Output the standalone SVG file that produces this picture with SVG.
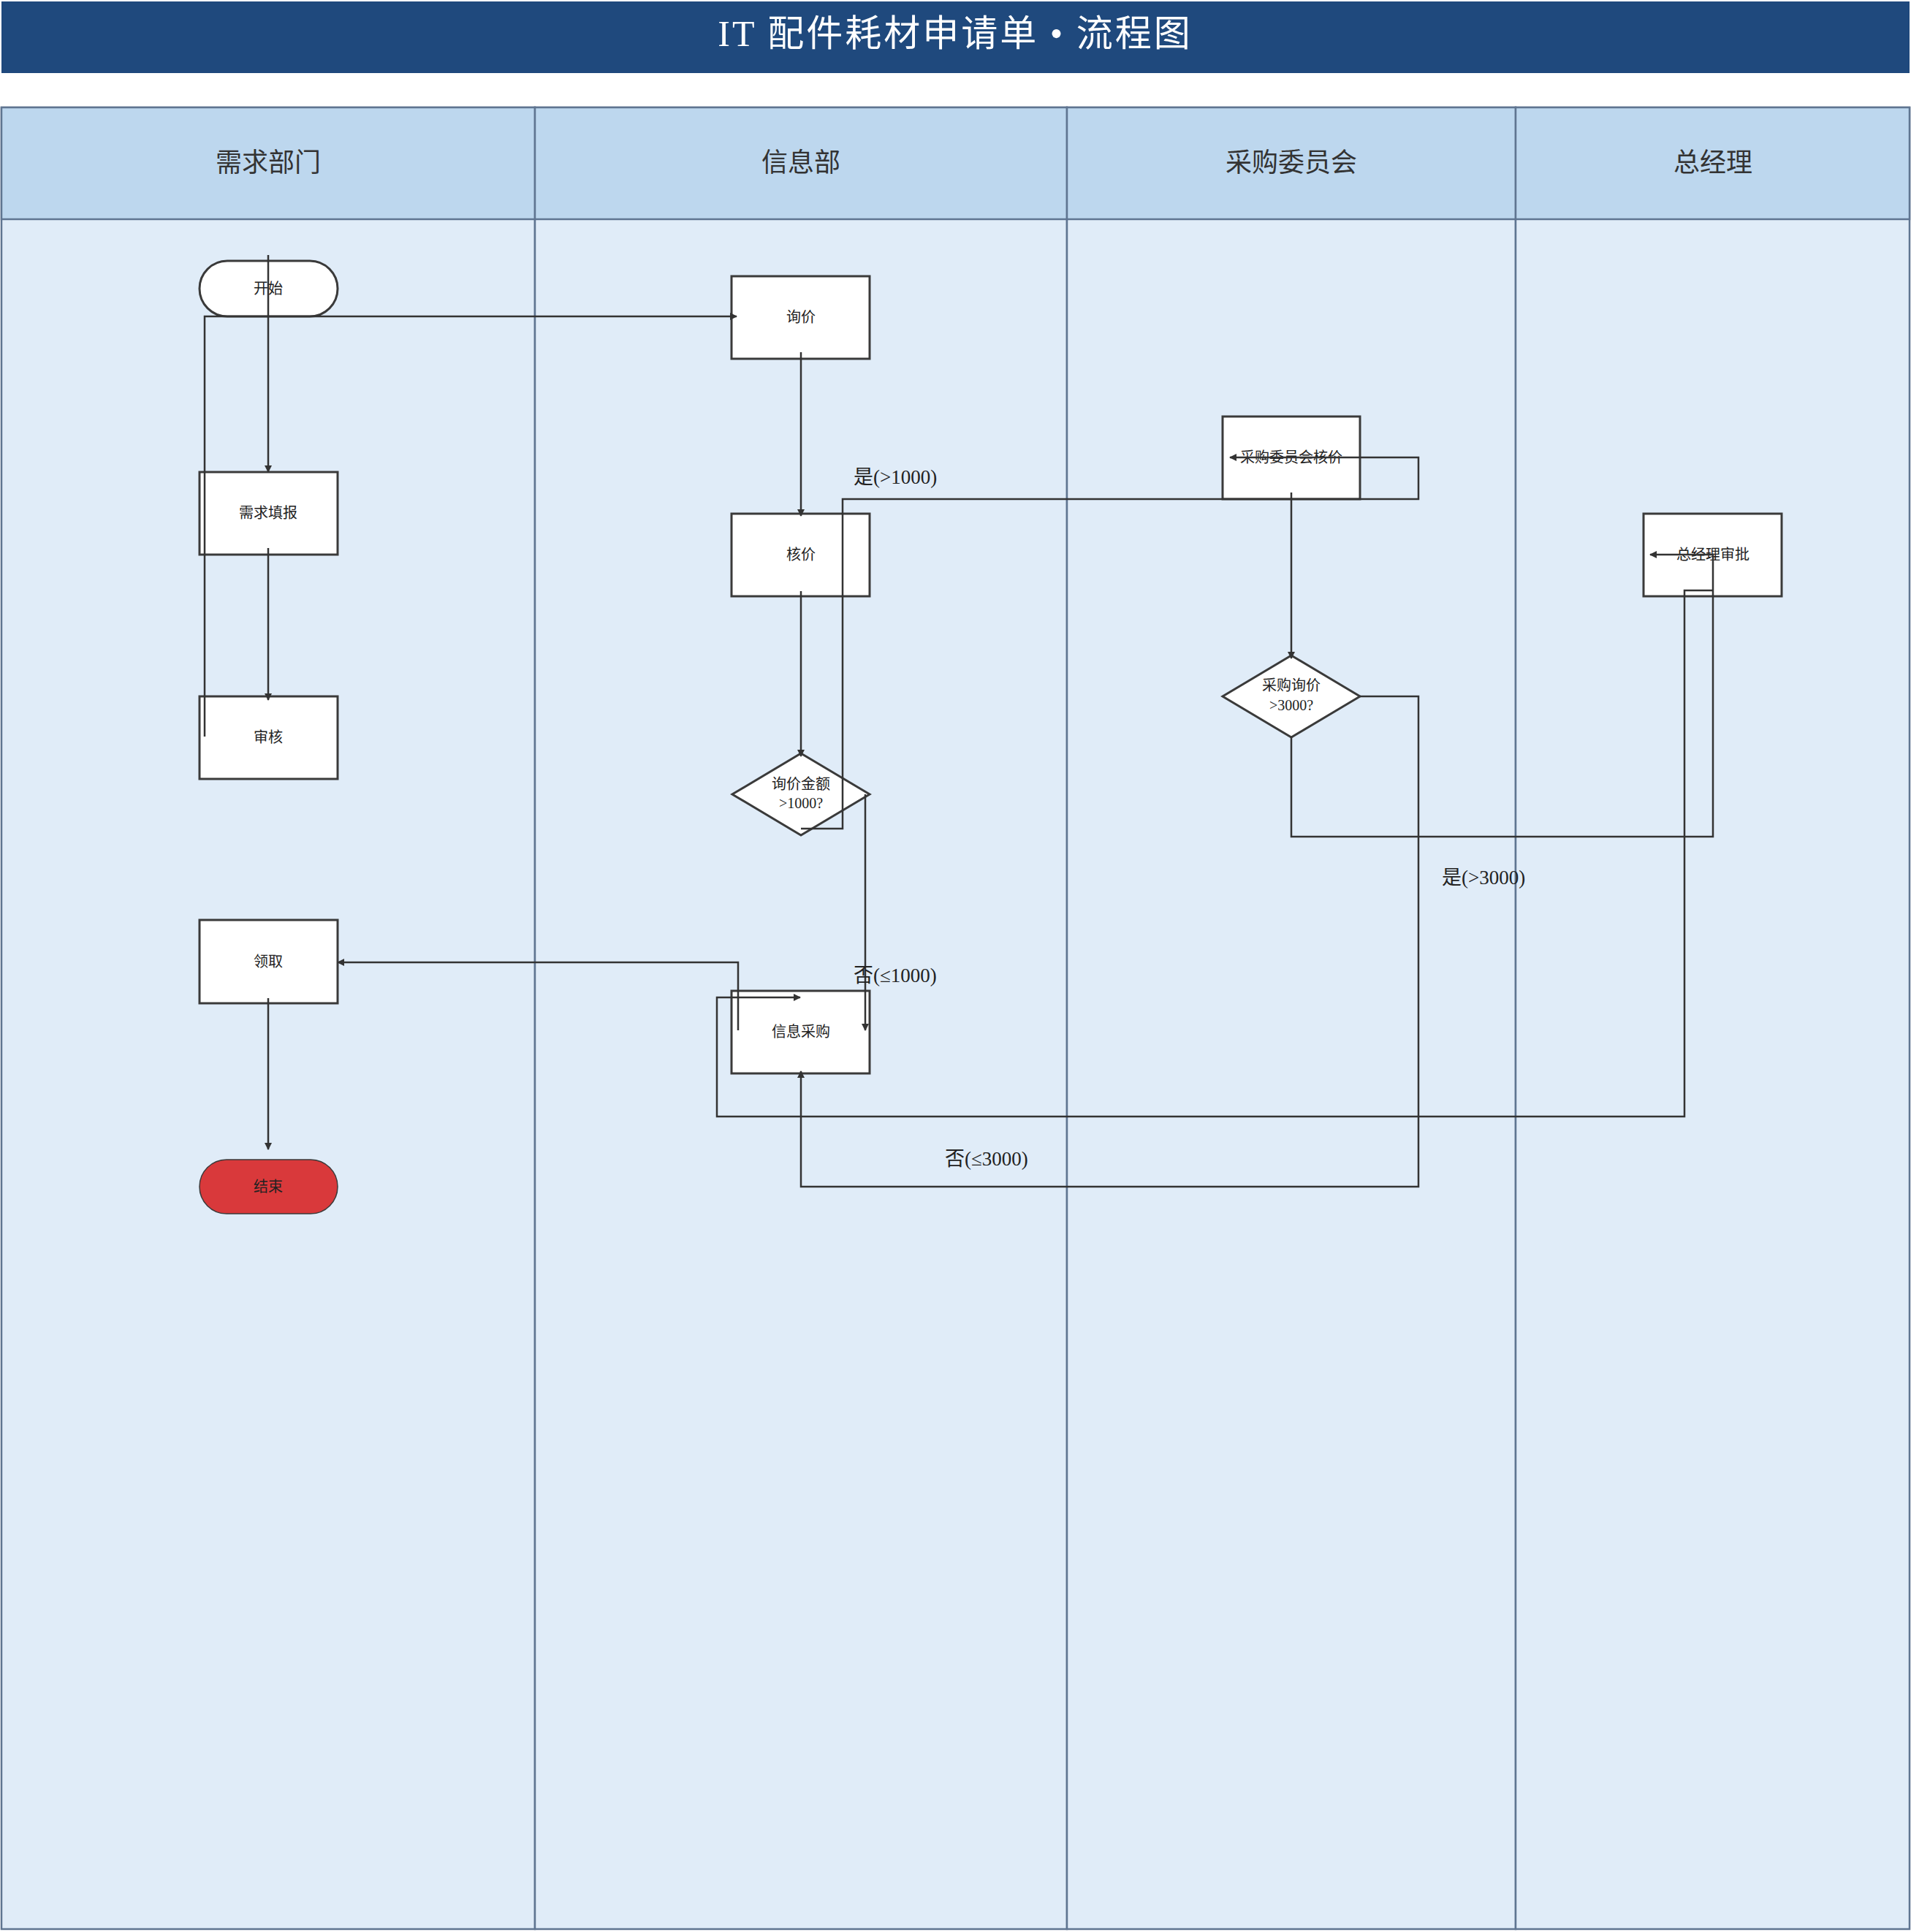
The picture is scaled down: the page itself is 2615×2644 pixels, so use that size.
<svg xmlns="http://www.w3.org/2000/svg" width="2615" height="2644" viewBox="0 0 2615 2644">
<defs>
<marker id="ar" markerWidth="10" markerHeight="10" refX="9" refY="5" orient="auto" markerUnits="userSpaceOnUse" viewBox="0 0 10 10"><path d="M0,0 L10,5 L0,10 z" fill="#333"/></marker>
<style>
.lane{fill:#e0ecf8;stroke:#5f7591;stroke-width:2.5}
.hdr{fill:#bdd7ee;stroke:#5f7591;stroke-width:2.5}
.ht{font-family:"Liberation Serif","Noto Sans CJK SC",serif;font-size:36px;fill:#333;text-anchor:middle}
.n{fill:#fff;stroke:#3a3a3a;stroke-width:3}
.nt{font-family:"Liberation Serif","Noto Sans CJK SC",serif;font-size:20px;fill:#222;text-anchor:middle}
.c{fill:none;stroke:#333;stroke-width:2.5}
.lb{font-family:"Liberation Serif","Noto Sans CJK SC",serif;font-size:27px;fill:#222}
</style>
</defs>
<rect x="0" y="0" width="2615" height="2644" fill="#fff"/>
<g id="title"><rect x="2" y="2" width="2611" height="98" fill="#1f497d"/>
<text x="1307" y="63" font-family="Liberation Serif,Noto Sans CJK SC,serif" font-size="50" fill="#fff" text-anchor="middle" letter-spacing="3">IT 配件耗材申请单 • 流程图</text></g>
<g id="lanes">
<rect class="lane" x="2" y="147" width="730" height="2493"/>
<rect class="lane" x="732" y="147" width="728" height="2493"/>
<rect class="lane" x="1460" y="147" width="614" height="2493"/>
<rect class="lane" x="2074" y="147" width="539" height="2493"/>
<rect class="hdr" x="2" y="147" width="730" height="153"/>
<rect class="hdr" x="732" y="147" width="728" height="153"/>
<rect class="hdr" x="1460" y="147" width="614" height="153"/>
<rect class="hdr" x="2074" y="147" width="539" height="153"/>
<text class="ht" x="367" y="235">需求部门</text>
<text class="ht" x="1096" y="235">信息部</text>
<text class="ht" x="1767" y="235">采购委员会</text>
<text class="ht" x="2344" y="235">总经理</text>
</g>
<g id="n-start"><rect class="n" x="273" y="357" width="189" height="76" rx="38"/><text class="nt" x="367" y="402">开始</text></g>
<g id="n-fill"><rect class="n" x="273" y="646" width="189" height="113"/><text class="nt" x="367" y="709">需求填报</text></g>
<g id="n-review"><rect class="n" x="273" y="953" width="189" height="113"/><text class="nt" x="367" y="1016">审核</text></g>
<g id="n-receive"><rect class="n" x="273" y="1259" width="189" height="114"/><text class="nt" x="367" y="1323">领取</text></g>
<g id="n-end"><rect x="273" y="1587" width="189" height="74" rx="37" fill="#d9393b" stroke="#3a3a3a" stroke-width="1.5"/><text class="nt" x="367" y="1631">结束</text></g>
<g id="n-inquiry"><rect class="n" x="1001" y="378" width="189" height="113"/><text class="nt" x="1096" y="441">询价</text></g>
<g id="n-check"><rect class="n" x="1001" y="703" width="189" height="113"/><text class="nt" x="1096" y="766">核价</text></g>
<g id="n-d1"><polygon class="n" points="1096,1031 1190,1087 1096,1143 1002,1087"/><text class="nt" x="1096" y="1080">询价金额</text><text class="nt" x="1096" y="1106">&gt;1000?</text></g>
<g id="n-buy"><rect class="n" x="1001" y="1356" width="189" height="113"/><text class="nt" x="1096" y="1419">信息采购</text></g>
<g id="n-comm"><rect class="n" x="1673" y="570" width="188" height="113"/><text class="nt" x="1767" y="633">采购委员会核价</text></g>
<g id="n-d2"><polygon class="n" points="1767,897 1861,953 1767,1009 1673,953"/><text class="nt" x="1767" y="945">采购询价</text><text class="nt" x="1767" y="972">&gt;3000?</text></g>
<g id="n-gm"><rect class="n" x="2249" y="703" width="189" height="113"/><text class="nt" x="2344" y="766">总经理审批</text></g>
<g id="connectors">
<path class="c" d="M367,349 V646" marker-end="url(#ar)"/>
<path class="c" d="M280,1008 V433 H1008" marker-end="url(#ar)"/>
<path class="c" d="M367,750 V958" marker-end="url(#ar)"/>
<path class="c" d="M1096,482 V706" marker-end="url(#ar)"/>
<path class="c" d="M1096,809 V1035" marker-end="url(#ar)"/>
<path class="c" d="M1096,1134 H1153 V683 H1941 V626 H1683" marker-end="url(#ar)"/>
<path class="c" d="M1184,1087 V1410" marker-end="url(#ar)"/>
<path class="c" d="M1767,674 V901" marker-end="url(#ar)"/>
<path class="c" d="M1767,1008 V1145 H2344 V759 H2258" marker-end="url(#ar)"/>
<path class="c" d="M1861,953 H1941 V1624 H1096 V1466" marker-end="url(#ar)"/>
<path class="c" d="M2344,808 H2305 V1528 H981 V1365 H1095" marker-end="url(#ar)"/>
<path class="c" d="M1010,1410 V1317 H462" marker-end="url(#ar)"/>
<path class="c" d="M367,1366 V1573" marker-end="url(#ar)"/>
<text class="lb" x="1168" y="662">是(&gt;1000)</text>
<text class="lb" x="1168" y="1344">否(≤1000)</text>
<text class="lb" x="1973" y="1210">是(&gt;3000)</text>
<text class="lb" x="1293" y="1595">否(≤3000)</text>
</g>
</svg>
